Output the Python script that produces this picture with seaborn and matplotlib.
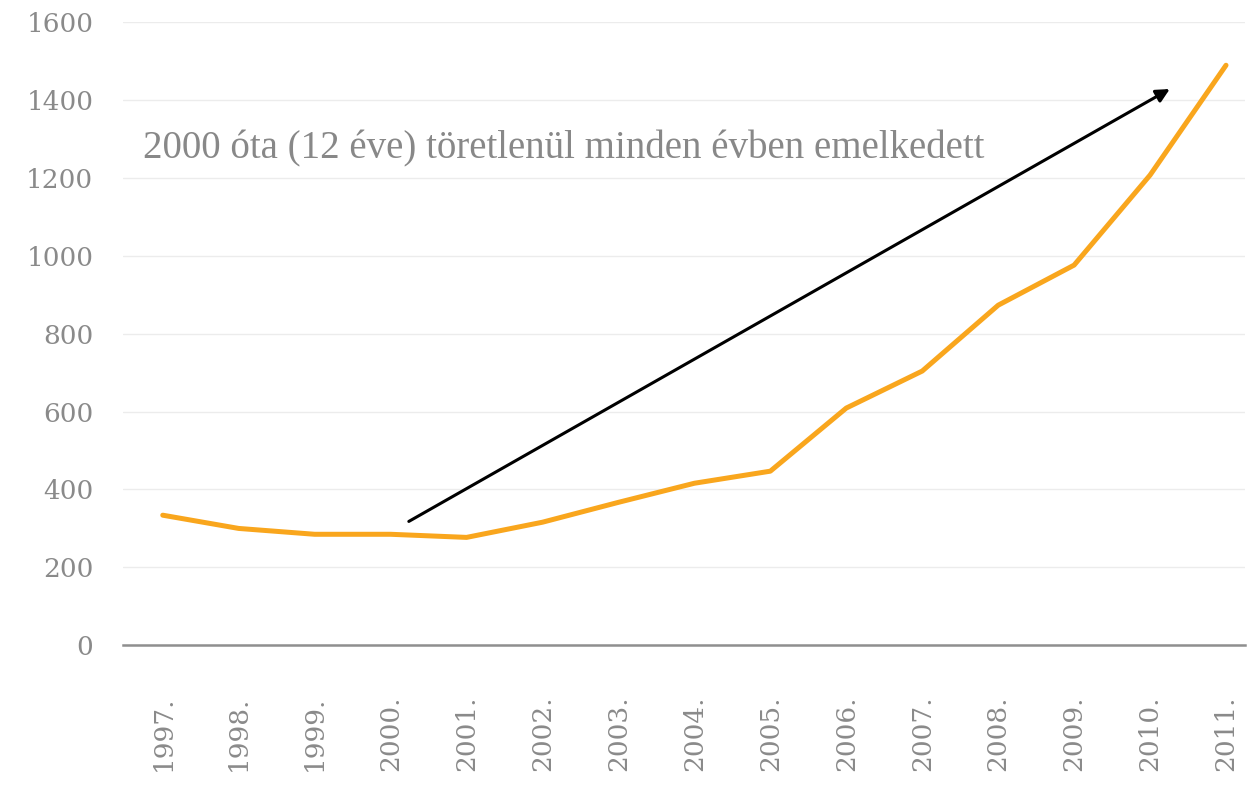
import seaborn as sns
from matplotlib import pyplot as plt
import pandas as pd

years = [1997, 1998, 1999, 2000, 2001, 2002, 2003, 2004, 2005, 2006, 2007, 2008, 2009, 2010, 2011]
year_labels = [f'{y}.' for y in years]
values = [334, 300, 285, 285, 277, 316, 367, 416, 447, 609, 704, 873, 976, 1207, 1489]
note = '2000 óta (12 éve) töretlenül minden évben emelkedett'

df = pd.DataFrame({'ev': years, 'ertek': values})

sns.set_style('whitegrid')
plt.rcParams['font.family'] = ['DejaVu Serif']

fig = plt.figure(figsize=(12.5, 7.86), dpi=100)
ax = fig.add_axes([0.098, 0.179, 0.898, 0.793])

sns.lineplot(data=df, x='ev', y='ertek', color='#F9A61D', linewidth=3.6, ax=ax)

ax.set_xlim(1996.47, 2011.25)
ax.set_ylim(0, 1600)
ax.set_yticks(range(0, 1601, 200))
ax.set_xticks(years)
ax.set_xticklabels(year_labels, rotation=90)
ax.tick_params(axis='both', colors='#8a8a8a', labelsize=19, length=0)
ax.tick_params(axis='x', pad=36)
ax.tick_params(axis='y', pad=21)
for lab in ax.get_xticklabels() + ax.get_yticklabels():
    lab.set_color('#8a8a8a')
    lab.set_fontfamily('DejaVu Serif')
ax.grid(axis='y', color='#ececec', linewidth=1)
ax.grid(axis='x', visible=False)
for s in ['left', 'right', 'top']:
    ax.spines[s].set_visible(False)
ax.spines['bottom'].set_color('#8f8f8f')
ax.spines['bottom'].set_linewidth(1.8)
ax.set_xlabel('')
ax.set_ylabel('')

ax.annotate('', xy=(2010.26, 1428), xytext=(2000.24, 318),
            arrowprops=dict(arrowstyle='-|>', color='black', lw=2.2,
                            mutation_scale=20, shrinkA=0, shrinkB=0))
ax.text(1996.74, 1250, note, fontsize=28, color='#888888',
        family=['Liberation Serif', 'DejaVu Serif'], va='baseline')

plt.savefig('out.png', dpi=100)
